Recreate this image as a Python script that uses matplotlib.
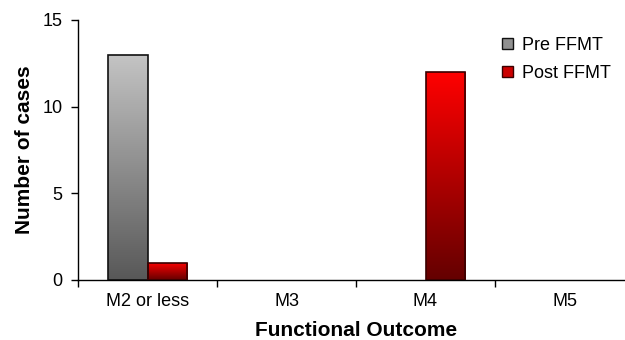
import matplotlib.pyplot as plt
import numpy as np
from matplotlib.colors import LinearSegmentedColormap
from matplotlib.patches import Patch

plt.rcParams['font.family'] = ['Liberation Sans', 'DejaVu Sans']

categories = ['M2 or less', 'M3', 'M4', 'M5']
pre_ffmt = [13, 0, 0, 0]
post_ffmt = [1, 0, 12, 0]

fig = plt.figure(figsize=(6.25, 3.4), dpi=100)
# axis runs off the right edge a little
ax = fig.add_axes([78 / 625, 60 / 340, 556 / 625, 260 / 340])

x = np.arange(len(categories))
w = 0.285

gray_cmap = LinearSegmentedColormap.from_list('g', ['#585858', '#c4c4c4'])
red_cmap = LinearSegmentedColormap.from_list('r', ['#640000', '#ff0000'])

grad = np.linspace(0, 1, 256).reshape(-1, 1)


def gradient_bars(xs, vals, cmap, edge):
    bars = ax.bar(xs, vals, w, align='edge', facecolor='none',
                  edgecolor=edge, linewidth=1.2, zorder=3)
    for b, v in zip(bars, vals):
        if v <= 0:
            b.set_visible(False)
            continue
        x0, y0 = b.get_x(), b.get_y()
        im = ax.imshow(grad, cmap=cmap, origin='lower', aspect='auto',
                       extent=[x0, x0 + b.get_width(), y0, y0 + b.get_height()],
                       zorder=2)
        im.set_clip_path(b)


gradient_bars(x - w, pre_ffmt, gray_cmap, '#111111')
gradient_bars(x, post_ffmt, red_cmap, '#3a0000')

ax.set_xlim(-0.5, len(categories) - 0.5)
ax.set_ylim(0, 15)
ax.set_yticks([0, 5, 10, 15])
ax.set_xticks(x)
ax.set_xticklabels(categories)
ax.set_xticks(np.arange(len(categories) + 1) - 0.5, minor=True)
ax.tick_params(axis='x', which='major', length=0, pad=9, labelsize=13)
ax.tick_params(axis='x', which='minor', length=5, width=1)
ax.tick_params(axis='y', length=5, width=1, labelsize=13, pad=6)

for s in ['top', 'right']:
    ax.spines[s].set_visible(False)
ax.spines['left'].set_linewidth(1)
ax.spines['bottom'].set_linewidth(1)

ax.set_ylabel('Number of cases', fontsize=15, fontweight='bold', labelpad=6)
ax.set_xlabel('Functional Outcome', fontsize=15, fontweight='bold', labelpad=8)

handles = [Patch(facecolor='#909090', edgecolor='#111111', label='Pre FFMT'),
           Patch(facecolor='#cc0000', edgecolor='#3a0000', label='Post FFMT')]
fig.legend(handles=handles, loc='upper left', bbox_to_anchor=(493 / 625, 1 - 28 / 340),
           frameon=False, fontsize=13, handlelength=0.6, handleheight=0.6,
           handletextpad=0.5, labelspacing=0.6, borderpad=0)

fig.savefig('out.png', dpi=100)
